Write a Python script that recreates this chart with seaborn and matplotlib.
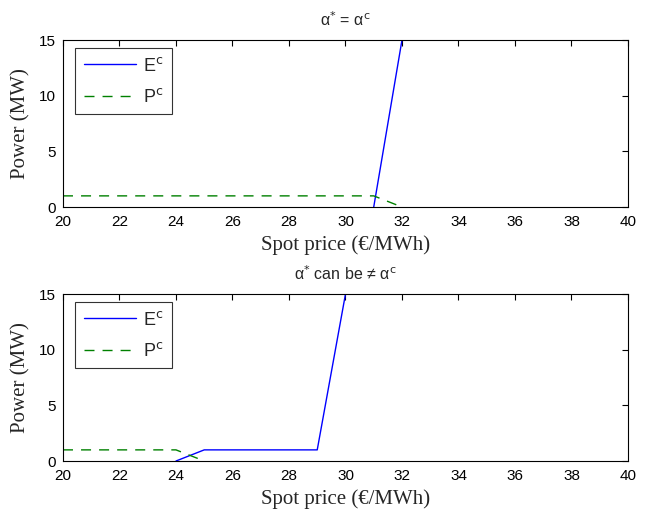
import matplotlib
matplotlib.use("Agg")
import matplotlib.pyplot as plt
import pandas as pd
import seaborn as sns

# top panel: alpha* = alpha^c
top_e_price = [31, 32]
top_e_power = [0, 15]
top_p_price = [20, 31, 32]
top_p_power = [1, 1, 0]

# bottom panel: alpha* can differ from alpha^c
bot_e_price = [24, 25, 29, 30]
bot_e_power = [0, 1, 1, 15]
bot_p_price = [20, 24, 25]
bot_p_power = [1, 1, 0]

x_ticks = list(range(20, 41, 2))
y_ticks = [0, 5, 10, 15]
titles = [r"α$^{*}$ = α$^{\mathrm{c}}$", r"α$^{*}$ can be ≠ α$^{\mathrm{c}}$"]

sns.set_style("white")
plt.rcParams["mathtext.fontset"] = "dejavusans"
plt.rcParams["font.family"] = ["Liberation Sans", "DejaVu Sans"]

fig = plt.figure(figsize=(6.46, 5.12), dpi=100)
ax_top = fig.add_axes([0.0975, 0.5957, 0.8746, 0.326])
ax_bot = fig.add_axes([0.0975, 0.0996, 0.8746, 0.326])

panels = [
    (ax_top, top_e_price, top_e_power, top_p_price, top_p_power, titles[0]),
    (ax_bot, bot_e_price, bot_e_power, bot_p_price, bot_p_power, titles[1]),
]

for ax, ex, ey, px, py, title in panels:
    e_df = pd.DataFrame({"price": ex, "power": ey})
    p_df = pd.DataFrame({"price": px, "power": py})
    sns.lineplot(data=e_df, x="price", y="power", ax=ax, color=(0, 0, 1),
                 linewidth=1, label=r"E$^{\mathrm{c}}$", sort=False)
    sns.lineplot(data=p_df, x="price", y="power", ax=ax, color=(0, 0.5, 0),
                 linewidth=1, linestyle=(0, (7.2, 5.8)), label=r"P$^{\mathrm{c}}$", sort=False)
    ax.set_xlim(20, 40)
    ax.set_ylim(0, 15)
    ax.set_xticks(x_ticks)
    ax.set_yticks(y_ticks)
    ax.tick_params(direction="in", length=4, width=0.8, top=True, right=True,
                   labelsize=11, colors="black")
    ax.tick_params(axis="x", pad=6)
    ax.tick_params(axis="y", pad=5)
    for s in ax.spines.values():
        s.set_color("black")
        s.set_linewidth(0.8)
    ax.set_xlabel("Spot price (€/MWh)", family="Liberation Serif", fontsize=15, labelpad=4)
    ax.set_ylabel("Power (MW)", family="Liberation Serif", fontsize=15, labelpad=6)
    ax.set_title(title, fontsize=11.5, pad=10)
    leg = ax.legend(loc="upper left", fontsize=13, frameon=True, fancybox=False,
                    handlelength=2.9, handletextpad=0.4, borderpad=0.45,
                    labelspacing=0.75, borderaxespad=0,
                    bbox_to_anchor=(0.022, 0.95))
    leg.get_frame().set_edgecolor("black")
    leg.get_frame().set_linewidth(0.8)

fig.savefig("out.png", dpi=100)
